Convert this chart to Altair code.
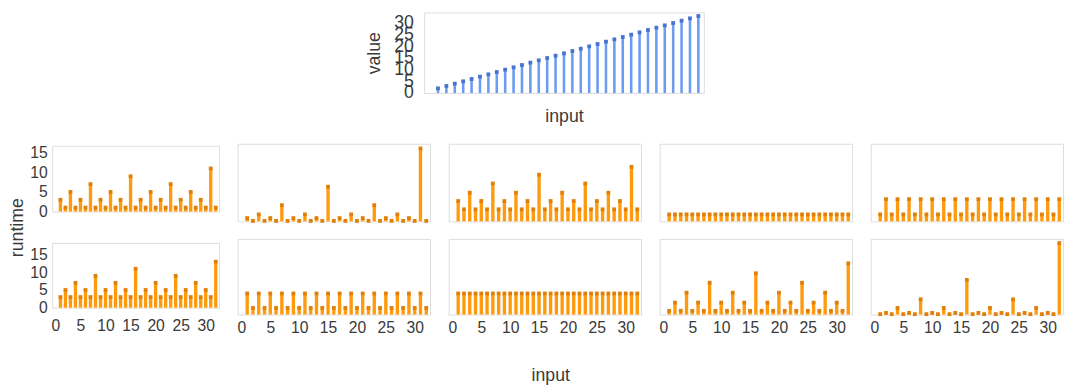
import altair as alt
import pandas as pd

inputs = [1, 2, 3, 4, 5, 6, 7, 8, 9, 10, 11, 12, 13, 14, 15, 16,
          17, 18, 19, 20, 21, 22, 23, 24, 25, 26, 27, 28, 29, 30, 31, 32]

top_values = [2, 3, 4, 5, 6, 7, 8, 9, 10, 11, 12, 13, 14, 15, 16, 17,
              18, 19, 20, 21, 22, 23, 24, 25, 26, 27, 28, 29, 30, 31, 32, 33]

r1p1 = [3, 1, 5, 1, 3, 1, 7, 1, 3, 1, 5, 1, 3, 1, 9, 1,
        3, 1, 5, 1, 3, 1, 7, 1, 3, 1, 5, 1, 3, 1, 11, 1]
r1p2 = [0.7, 0.1, 1.5, 0.1, 0.7, 0.1, 3.5, 0.1, 0.7, 0.1, 1.5, 0.1, 0.7, 0.1, 7.5, 0.1,
        0.7, 0.1, 1.5, 0.1, 0.7, 0.1, 3.5, 0.1, 0.7, 0.1, 1.5, 0.1, 0.7, 0.1, 15.8, 0.1]
r1p3 = [4.4, 2.6, 6.2, 2.6, 4.4, 2.6, 8.2, 2.6, 4.4, 2.6, 6.2, 2.6, 4.4, 2.6, 10.1, 2.6,
        4.4, 2.6, 6.2, 2.6, 4.4, 2.6, 8.2, 2.6, 4.4, 2.6, 6.2, 2.6, 4.4, 2.6, 11.8, 2.6]
r1p4 = [1.5, 1.5, 1.5, 1.5, 1.5, 1.5, 1.5, 1.5, 1.5, 1.5, 1.5, 1.5, 1.5, 1.5, 1.5, 1.5,
        1.5, 1.5, 1.5, 1.5, 1.5, 1.5, 1.5, 1.5, 1.5, 1.5, 1.5, 1.5, 1.5, 1.5, 1.5, 1.5]
r1p5 = [1.5, 4.8, 1.5, 4.8, 1.5, 4.8, 1.5, 4.8, 1.5, 4.8, 1.5, 4.8, 1.5, 4.8, 1.5, 4.8,
        1.5, 4.8, 1.5, 4.8, 1.5, 4.8, 1.5, 4.8, 1.5, 4.8, 1.5, 4.8, 1.5, 4.8, 1.5, 4.8]

r2p1 = [3, 5, 3, 7, 3, 5, 3, 9, 3, 5, 3, 7, 3, 5, 3, 11,
        3, 5, 3, 7, 3, 5, 3, 9, 3, 5, 3, 7, 3, 5, 3, 13]
r2p2 = [5.1, 1.6, 5.1, 1.6, 5.1, 1.6, 5.1, 1.6, 5.1, 1.6, 5.1, 1.6, 5.1, 1.6, 5.1, 1.6,
        5.1, 1.6, 5.1, 1.6, 5.1, 1.6, 5.1, 1.6, 5.1, 1.6, 5.1, 1.6, 5.1, 1.6, 5.1, 1.6]
r2p3 = [5.1, 5.1, 5.1, 5.1, 5.1, 5.1, 5.1, 5.1, 5.1, 5.1, 5.1, 5.1, 5.1, 5.1, 5.1, 5.1,
        5.1, 5.1, 5.1, 5.1, 5.1, 5.1, 5.1, 5.1, 5.1, 5.1, 5.1, 5.1, 5.1, 5.1, 5.1, 5.1]
r2p4 = [0.9, 2.9, 0.9, 5.3, 0.9, 2.9, 0.9, 7.7, 0.9, 2.9, 0.9, 5.3, 0.9, 2.9, 0.9, 10.0,
        0.9, 2.9, 0.9, 5.3, 0.9, 2.9, 0.9, 7.7, 0.9, 2.9, 0.9, 5.3, 0.9, 2.9, 0.9, 12.4]
r2p5 = [0.1, 0.4, 0.1, 1.6, 0.1, 0.4, 0.1, 3.7, 0.1, 0.4, 0.1, 1.6, 0.1, 0.4, 0.1, 8.4,
        0.1, 0.4, 0.1, 1.6, 0.1, 0.4, 0.1, 3.7, 0.1, 0.4, 0.1, 1.6, 0.1, 0.4, 0.1, 17.3]

x_ticks = [0, 5, 10, 15, 20, 25, 30]
y_ticks_top = [0, 5, 10, 15, 20, 25, 30]
y_ticks_runtime = [0, 5, 10, 15]

FONT = "Liberation Sans"
TXT = "#3a3a3a"
XDOM = [-0.65, 32.65]
ORANGE = "#FF9A0C"
DORANGE = "#E0800A"
R1 = [0, 16.8]
R2 = [0, 18.3]


def stem_panel(vals, w, h, ydom, show_y=False, show_x=False, xpad=5, ytitle=None):
    df = pd.DataFrame({"input": inputs, "v": vals})
    if show_x:
        xaxis = alt.Axis(values=x_ticks, title=None, labelFontSize=16, labelFont=FONT,
                         labelColor=TXT, ticks=False, domain=False, grid=False,
                         labelPadding=xpad, labelFlush=False, labelOverlap=False)
    else:
        xaxis = None
    if show_y:
        ykw = dict(values=y_ticks_runtime, labelFontSize=16, labelFont=FONT,
                   labelColor=TXT, ticks=False, domain=False, grid=False,
                   labelPadding=5, labelOverlap=False)
        if ytitle:
            ykw.update(title=ytitle, titleFont=FONT, titleFontSize=18,
                       titleFontWeight="normal", titleColor=TXT,
                       titleX=-26, titleY=83, titleBaseline="bottom", titleAlign="center")
        else:
            ykw.update(title=None)
        yaxis = alt.Axis(**ykw)
    else:
        yaxis = None
    x = alt.X("input:Q", scale=alt.Scale(domain=XDOM, nice=False, zero=False), axis=xaxis)
    y = alt.Y("v:Q", scale=alt.Scale(domain=ydom, nice=False), axis=yaxis)
    base = alt.Chart(df)
    rules = base.mark_rule(color=ORANGE, strokeWidth=3.4).encode(x=x, y=y, y2=alt.datum(0))
    pts = base.mark_square(color=DORANGE, size=15, opacity=1).encode(x=x, y=y)
    return alt.layer(rules, pts).properties(width=w, height=h)


# top panel
df_top = pd.DataFrame({"input": inputs, "value": top_values})
xt = alt.X("input:Q", scale=alt.Scale(domain=XDOM, nice=False, zero=False),
           axis=alt.Axis(title="input", labels=False, ticks=False, domain=False, grid=False,
                         titleFont=FONT, titleFontSize=18, titleFontWeight="normal",
                         titleColor=TXT, titlePadding=15))
yt = alt.Y("value:Q", scale=alt.Scale(domain=[0, 34.5], nice=False),
           axis=alt.Axis(values=y_ticks_top, title="value", labels=True, ticks=False,
                         domain=False, grid=False, labelFont=FONT, labelFontSize=18,
                         labelColor=TXT, labelOverlap=False, labelPadding=11,
                         titleFont=FONT, titleFontSize=18, titleFontWeight="normal",
                         titleColor=TXT, titlePadding=10))
tb = alt.Chart(df_top)
top = alt.layer(
    tb.mark_rule(color="#6C9BF2", strokeWidth=2.6).encode(x=xt, y=yt, y2=alt.datum(0)),
    tb.mark_square(color="#4874CF", size=15, opacity=1).encode(x=xt, y=yt),
).properties(width=285, height=82)

spacer = alt.Chart(pd.DataFrame({"s": [0]})).mark_point(opacity=0, size=1).encode(
    x=alt.value(0), y=alt.value(0)
).properties(width=319, height=10, view=alt.ViewBackground(stroke=None))

top_row = alt.hconcat(spacer, top, spacing=0)

col1 = alt.vconcat(
    stem_panel(r1p1, 170, 67, R1, show_y=True, ytitle="runtime"),
    stem_panel(r2p1, 170, 66, R2, show_y=True, show_x=True, xpad=10),
    spacing=32, bounds="flush",
)
cols = [col1]
for a, b in [(r1p2, r2p2), (r1p3, r2p3), (r1p4, r2p4), (r1p5, r2p5)]:
    cols.append(alt.vconcat(
        stem_panel(a, 196, 79, R1),
        stem_panel(b, 196, 77, R2, show_x=True),
        spacing=18, bounds="flush",
    ))

grid = alt.hconcat(*cols, spacing=16, center=True)

chart = alt.vconcat(top_row, grid, spacing=16.5).properties(
    title=alt.TitleParams("input", orient="bottom", anchor="middle", dx=15,
                          font=FONT, fontSize=18, fontWeight="normal", color=TXT, offset=32),
    padding=0,
).configure_view(stroke="#777777", strokeWidth=1).configure(background="white")

chart.save("out.html", embed_options={"renderer": "svg", "actions": False})
